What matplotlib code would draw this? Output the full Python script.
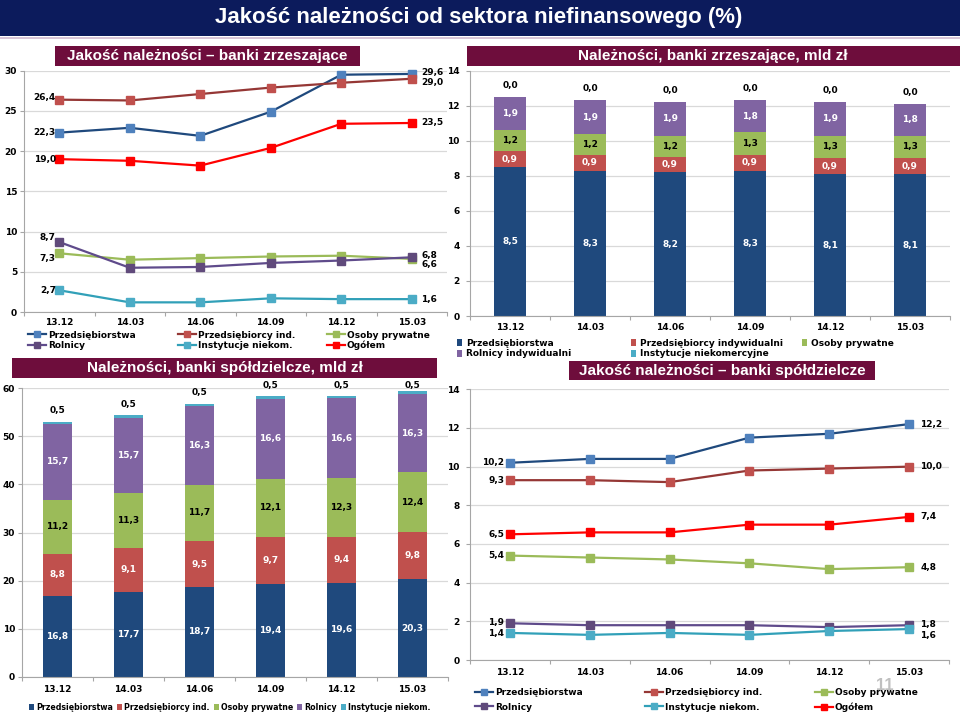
import matplotlib
matplotlib.use('Agg')
import matplotlib.pyplot as plt
from matplotlib.lines import Line2D
from matplotlib.patches import Rectangle
import numpy as np

W, H = 960, 714

periods = ['13.12', '14.03', '14.06', '14.09', '14.12', '15.03']

# --- Jakość należności – banki zrzeszające (%)
zrz_przeds = [22.3, 22.9, 21.9, 24.9, 29.5, 29.6]
zrz_przind = [26.4, 26.3, 27.1, 27.9, 28.5, 29.0]
zrz_osoby = [7.3, 6.5, 6.7, 6.9, 7.0, 6.6]
zrz_rolnicy = [8.7, 5.5, 5.6, 6.1, 6.4, 6.8]
zrz_inst = [2.7, 1.2, 1.2, 1.7, 1.6, 1.6]
zrz_ogolem = [19.0, 18.8, 18.2, 20.4, 23.4, 23.5]

# --- Należności, banki zrzeszające, mld zł
nz_przeds = [8.5, 8.3, 8.2, 8.3, 8.1, 8.1]
nz_przind = [0.9, 0.9, 0.9, 0.9, 0.9, 0.9]
nz_osoby = [1.2, 1.2, 1.2, 1.3, 1.3, 1.3]
nz_rolnicy = [1.9, 1.9, 1.9, 1.8, 1.9, 1.8]
nz_inst = [0.02, 0.02, 0.02, 0.02, 0.02, 0.02]

# --- Należności, banki spółdzielcze, mld zł
ns_przeds = [16.8, 17.7, 18.7, 19.4, 19.6, 20.3]
ns_przind = [8.8, 9.1, 9.5, 9.7, 9.4, 9.8]
ns_osoby = [11.2, 11.3, 11.7, 12.1, 12.3, 12.4]
ns_rolnicy = [15.7, 15.7, 16.3, 16.6, 16.6, 16.3]
ns_inst = [0.5, 0.5, 0.5, 0.5, 0.5, 0.5]

# --- Jakość należności – banki spółdzielcze (%)
sp_przeds = [10.2, 10.4, 10.4, 11.5, 11.7, 12.2]
sp_przind = [9.3, 9.3, 9.2, 9.8, 9.9, 10.0]
sp_osoby = [5.4, 5.3, 5.2, 5.0, 4.7, 4.8]
sp_rolnicy = [1.9, 1.8, 1.8, 1.8, 1.7, 1.8]
sp_inst = [1.4, 1.3, 1.4, 1.3, 1.5, 1.6]
sp_ogolem = [6.5, 6.6, 6.6, 7.0, 7.0, 7.4]

line_names = ['Przedsiębiorstwa', 'Przedsiębiorcy ind.', 'Osoby prywatne',
              'Rolnicy', 'Instytucje niekom.', 'Ogółem']
bar_names_top = ['Przedsiębiorstwa', 'Przedsiębiorcy indywidualni', 'Osoby prywatne',
                 'Rolnicy indywidualni', 'Instytucje niekomercyjne']
bar_names_bot = ['Przedsiębiorstwa', 'Przedsiębiorcy ind.', 'Osoby prywatne',
                 'Rolnicy', 'Instytucje niekom.']

# styles
LINE_COL = ['#1f497d', '#953735', '#9bbb59', '#5f4b8b', '#31a0b8', '#ff0000']
MARK_COL = ['#4f81bd', '#c0504d', '#9bbb59', '#604a7b', '#4bacc6', '#ff0000']
BAR_COL = ['#1f497d', '#c0504d', '#9bbb59', '#8064a2', '#4bacc6']
BAR_TXT = ['white', 'white', 'black', 'white', 'black']
MAROON = '#6e0d3c'
NAVY = '#0c1b5c'
SMALL = 6.5
FAM = 'DejaVu Sans'
TFAM = 'Liberation Sans'

fig = plt.figure(figsize=(W / 100, H / 100), dpi=100)
fig.patch.set_facecolor('white')


def fmt(v):
    return f"{v:.1f}".replace('.', ',')


def px_axes(x0, y0, x1, y1):
    return fig.add_axes([x0 / W, 1 - y1 / H, (x1 - x0) / W, (y1 - y0) / H])


def style(ax, ymax, ystep, xpad, ypad):
    ax.set_xlim(0, 6)
    ax.set_ylim(0, ymax)
    ax.set_yticks(np.arange(0, ymax + 0.01, ystep))
    ax.set_xticks(np.arange(6) + 0.5)
    ax.set_xticklabels(periods)
    ax.set_xticks(np.arange(7), minor=True)
    ax.tick_params(axis='x', which='major', length=0, pad=xpad)
    ax.tick_params(axis='x', which='minor', length=3, color='#a6a6a6', width=0.8)
    ax.tick_params(axis='y', length=3, color='#a6a6a6', width=0.8, pad=ypad)
    for s in ['top', 'right']:
        ax.spines[s].set_visible(False)
    for s in ['left', 'bottom']:
        ax.spines[s].set_color('#a6a6a6')
        ax.spines[s].set_linewidth(0.8)
    ax.yaxis.grid(True, color='#d9d9d9', lw=0.9)
    ax.set_axisbelow(True)
    ax.set_facecolor('none')
    for lab in ax.get_xticklabels() + ax.get_yticklabels():
        lab.set_fontweight('bold')
        lab.set_fontsize(SMALL)
        lab.set_family(FAM)


def title_box(x0, y0, x1, y1, text, cx=None, size=11):
    fig.add_artist(Rectangle((x0 / W, 1 - y1 / H), (x1 - x0) / W, (y1 - y0) / H,
                             transform=fig.transFigure, fc=MAROON, ec='none', zorder=5))
    if cx is None:
        cx = (x0 + x1) / 2
    fig.text(cx / W, 1 - ((y0 + y1) / 2) / H, text, color='white', ha='center',
             va='center', fontsize=size, fontweight='bold', family=TFAM, zorder=6)


def line_panel(ax, series, first_off, last_off, dx_first, dx_last):
    x = np.arange(6) + 0.5
    for i, vals in enumerate(series):
        ax.plot(x, vals, color=LINE_COL[i], lw=1.6, marker='s', ms=6,
                mfc=MARK_COL[i], mec=MARK_COL[i], zorder=3 + i * 0.1, clip_on=False)
    for i, vals in enumerate(series):
        ax.annotate(fmt(vals[0]), (x[0], vals[0]), xytext=(dx_first, first_off[i]),
                    textcoords='offset points', ha='right', va='center',
                    fontsize=SMALL, fontweight='bold', family=FAM, zorder=10)
        ax.annotate(fmt(vals[-1]), (x[-1], vals[-1]), xytext=(dx_last, last_off[i]),
                    textcoords='offset points', ha='left', va='center',
                    fontsize=SMALL, fontweight='bold', family=FAM, zorder=10)


def bar_panel(ax, series, top_off, top_max):
    x = np.arange(6) + 0.5
    bottom = np.zeros(6)
    for i, vals in enumerate(series):
        vals = np.array(vals)
        ax.bar(x, vals, 0.4, bottom=bottom, color=BAR_COL[i], zorder=2)
        if i < len(series) - 1:
            for xi, v, b in zip(x, vals, bottom):
                ax.text(xi, b + v / 2, fmt(v), ha='center', va='center', color=BAR_TXT[i],
                        fontsize=SMALL, fontweight='bold', family=FAM, zorder=4)
        else:
            for xi, v, b in zip(x, vals, bottom):
                ax.text(xi, min(b + v + top_off, top_max), fmt(v), ha='center', va='center',
                        color='black', fontsize=SMALL, fontweight='bold', family=FAM,
                        zorder=4, clip_on=False)
        bottom = bottom + vals


def leg_item(handle, label, xpx, ypx, hl, htp=0.3):
    fig.legend(handles=[handle], labels=[label], loc='center left',
               bbox_to_anchor=(xpx / W, 1 - ypx / H), frameon=False, borderpad=0,
               borderaxespad=0, handlelength=hl, handletextpad=htp, handleheight=0.7,
               prop=dict(weight='bold', size=SMALL, family=FAM))


def line_handle(i):
    return Line2D([], [], color=LINE_COL[i], lw=1.6, marker='s', ms=4.5,
                  mfc=MARK_COL[i], mec=MARK_COL[i])


def sq_handle(i):
    return Rectangle((0, 0), 1, 1, fc=BAR_COL[i], ec='none')


# header
fig.add_artist(Rectangle((0, 1 - 36 / H), 1, 36 / H, transform=fig.transFigure,
                         fc=NAVY, ec='none', zorder=5))
fig.add_artist(Rectangle((0, 1 - 39 / H), 1, 2 / H, transform=fig.transFigure,
                         fc='#d9c6d6', ec='none', zorder=5))
fig.text(479 / W, 1 - 18 / H, 'Jakość należności od sektora niefinansowego (%)',
         color='white', ha='center', va='center', fontsize=16, fontweight='bold',
         family=TFAM, zorder=6)

# ---- top-left
ax1 = px_axes(24, 70.7, 447, 312)
style(ax1, 30, 5, 4, 2)
line_panel(ax1, [zrz_przeds, zrz_przind, zrz_osoby, zrz_rolnicy, zrz_inst, zrz_ogolem],
           [0, 1.5, -3.5, 3, 0, 0], [1, -3, -4.3, 1, 0, 0], -2.5, 7)
title_box(55, 46, 360, 66, 'Jakość należności – banki zrzeszające')

# ---- top-right
ax2 = px_axes(470, 70.7, 950, 316)
style(ax2, 14, 2, 5, 4.5)
bar_panel(ax2, [nz_przeds, nz_przind, nz_osoby, nz_rolnicy, nz_inst], 0.65, 14)
title_box(467, 46, 960, 66, 'Należności, banki zrzeszające, mld zł', cx=713)

# ---- bottom-left
ax3 = px_axes(22, 388, 448, 677)
style(ax3, 60, 10, 5.5, 2)
bar_panel(ax3, [ns_przeds, ns_przind, ns_osoby, ns_rolnicy, ns_inst], 2.3, 60.6)
title_box(12, 358, 437, 378, 'Należności, banki spółdzielcze, mld zł')

# ---- bottom-right
ax4 = px_axes(470, 389.3, 949, 660)
style(ax4, 14, 2, 5.5, 4.5)
line_panel(ax4, [sp_przeds, sp_przind, sp_osoby, sp_rolnicy, sp_inst, sp_ogolem],
           [0, 0, 0, 0.5, -0.5, 0], [0, 0, 0, 0.5, -4.5, 0], -4, 8)
title_box(569, 361, 875, 380, 'Jakość należności – banki spółdzielcze')

# ---- legends
cols_tl = [28, 178, 327]
rows_tl = [335, 345.7]
for i, name in enumerate(line_names):
    leg_item(line_handle(i), name, cols_tl[i % 3], rows_tl[i // 3], 2.0, 0.2)

cols_tr = [457, 631, 802]
rows_tr = [343, 354]
for i, name in enumerate(bar_names_top):
    leg_item(sq_handle(i), name, cols_tr[i % 3], rows_tr[i // 3], 0.6, 0.4)

fig.legend(handles=[sq_handle(i) for i in range(5)], labels=bar_names_bot, ncol=5,
           loc='center', bbox_to_anchor=(230 / W, 1 - 707 / H), frameon=False,
           borderpad=0, borderaxespad=0, handlelength=0.6, handleheight=0.7,
           handletextpad=0.3, columnspacing=0.5,
           prop=dict(weight='bold', size=5.7, family=FAM))

cols_br = [475, 645, 815]
rows_br = [692.5, 707]
for i, name in enumerate(line_names):
    leg_item(line_handle(i), name, cols_br[i % 3], rows_br[i // 3], 2.0, 0.2)

fig.text(885 / W, 1 - 686 / H, '11', color='#a6a6a6', ha='center', va='center',
         fontsize=12, fontweight='bold', family=TFAM, alpha=0.7, zorder=20)

fig.savefig('out.png', dpi=100)
